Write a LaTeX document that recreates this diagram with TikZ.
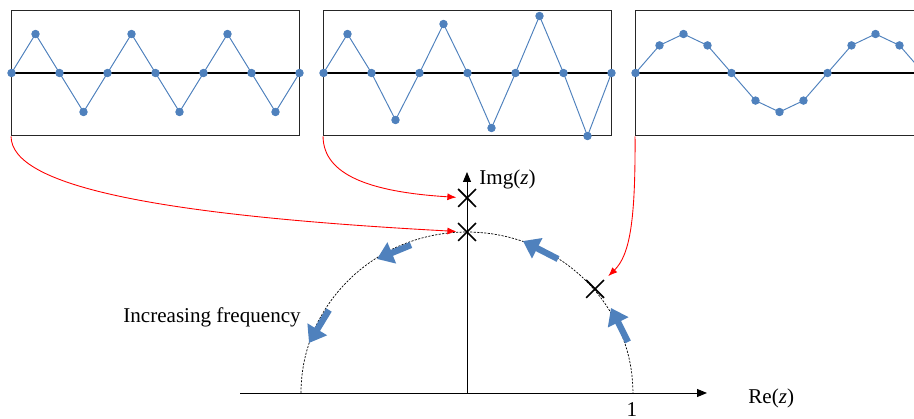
\documentclass[tikz,border=0pt]{standalone}
\usepackage{fontspec}
\setmainfont{Liberation Serif}
\usetikzlibrary{arrows.meta,positioning,shapes.misc}
\definecolor{sigblue}{RGB}{79,129,189}

\begin{document}
\begin{tikzpicture}[x=0.02cm, y=0.02cm, panel/.style={draw=black!85, line width=0.55pt, minimum width=5.76cm, minimum height=2.52cm, inner sep=0pt}, zeroline/.style={draw=black, line width=0.6pt}, sig/.style={draw=sigblue, line width=0.55pt, mark=*, mark size=2.1pt, mark options={fill=sigblue, draw=sigblue}}, pole/.style={cross out, draw=black, line width=1pt, minimum size=0.32cm, inner sep=0pt}, axis/.style={-{Triangle[length=2mm, width=1.6mm]}, line width=0.55pt, draw=black}, unit/.style={draw=black, line width=0.4pt, dash pattern=on 1.2pt off 0.8pt}, dirarr/.style={-{Triangle[length=3.2mm, width=4.4mm]}, line width=3.6pt, draw=sigblue}, feed/.style={-{Latex[length=1.8mm, width=1.4mm]}, line width=0.5pt, draw=red, shorten >=1pt}, lbl/.style={font=\fontsize{12}{14}\selectfont, inner sep=0pt}
]
  \clip (0,0) rectangle (914,419);
  % sampled signals
  \node[panel] (w1) at (155.5,346) {};
  \node[panel] (w2) at (467.5,346) {};
  \node[panel] (w3) at (779.5,346) {};
  \draw[zeroline] (w1.west) -- (w1.east);
  \draw[zeroline] (w2.west) -- (w2.east);
  \draw[zeroline] (w3.west) -- (w3.east);
  \draw[sig] plot coordinates {(11.5,346) (35.5,385) (59.5,346) (83.5,307) (107.5,346) (131.5,385) (155.5,346) (179.5,307) (203.5,346) (227.5,385) (251.5,346) (275.5,307) (299.5,346)};
  \draw[sig] plot coordinates {(323.5,346) (347.5,385) (371.5,346) (395.5,299) (419.5,346) (443.5,395) (467.5,346) (491.5,291) (515.5,346) (539.5,403) (563.5,346) (587.5,283) (611.5,346)};
  \draw[sig] plot coordinates {(635.5,346) (659.5,373.6) (683.5,385) (707.5,373.6) (731.5,346) (755.5,318.4) (779.5,307) (803.5,318.4) (827.5,346) (851.5,373.6) (875.5,385) (899.5,373.6) (923.5,346)};

  % z-plane
  \coordinate (O) at (467,26);
  \coordinate (xl) at (240,26);
  \coordinate (xr) at (707,26);
  \coordinate (yt) at (467,247);
  \draw[axis] (xl) -- (xr);
  \draw[axis] (O) -- (yt);
  \draw[unit] (301,26) arc[start angle=180, end angle=0, x radius=3.32cm, y radius=3.22cm];
  \node[lbl, anchor=west] (imlab) at (479,240) {Img(\textit{z})};
  \node[lbl, anchor=west] (relab) at (748,21) {Re(\textit{z})};
  \node[lbl] (one) at (632,9) {1};
  \node[lbl, anchor=west] (freq) at (123,102) {Increasing frequency};

  \node[pole] (p1) at (467,221) {};
  \node[pole] (p2) at (467,187) {};
  \node[pole] (p3) at (595,130) {};

  \draw[dirarr] (628,77) -- (611,111);
  \draw[dirarr] (558,160) -- (523,178);
  \draw[dirarr] (411,174) -- (377,160);
  \draw[dirarr] (329,109) -- (309,76);

  \draw[feed] (w1.south west) .. controls (11.5,234) and (150,204) .. (p2);
  \draw[feed] (w2.south west) .. controls (323.5,244) and (370,227) .. (p1);
  \draw[feed, shorten >=3.5pt] (w3.south west) .. controls (635.5,199) and (630,164) .. (p3);
\end{tikzpicture}
\end{document}
